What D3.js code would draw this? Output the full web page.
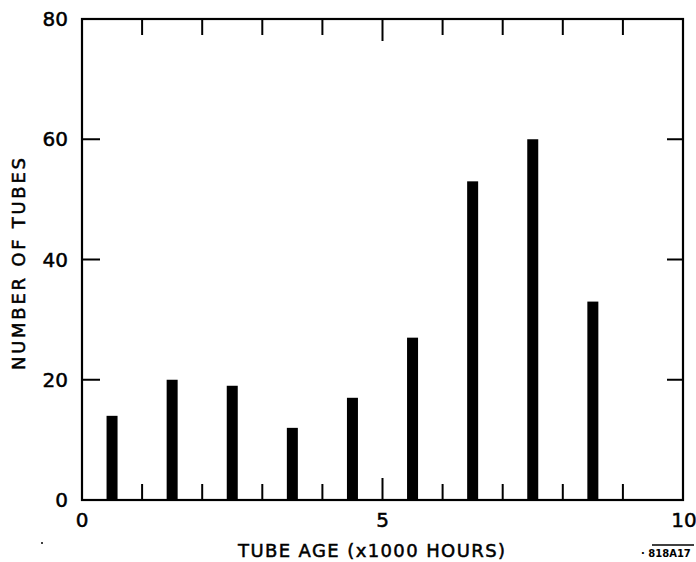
<!DOCTYPE html>
<html><head><meta charset="utf-8">
<script src="https://cdn.jsdelivr.net/npm/d3@7"></script>
<style>html,body{margin:0;padding:0;background:#fff;}svg{display:block;}text{font-family:"DejaVu Sans",sans-serif;fill:#000;}.lbl{stroke:#000;stroke-width:0.5;}</style>
</head><body>
<svg id="c" width="696" height="562"></svg>
<script>
const categories = [0.5, 1.5, 2.5, 3.5, 4.5, 5.5, 6.5, 7.5, 8.5];
const values = [14, 20, 19, 12, 17, 27, 53, 60, 33];
const xTickLabels = [0, 5, 10];
const yTickLabels = [0, 20, 40, 60, 80];
const xMinorTicks = [1, 2, 3, 4, 5, 6, 7, 8, 9];
const yInnerTicks = [20, 40, 60];

const svg = d3.select("#c");
const L = 82, R = 683, T = 19, B = 500;
const x = d3.scaleLinear().domain([0, 10]).range([L, R]);
const y = d3.scaleLinear().domain([0, 80]).range([B, T]);

// bars
svg.append("g").selectAll("rect").data(categories).join("rect")
  .attr("x", d => x(d) - 5.5)
  .attr("width", 11)
  .attr("y", (d, i) => y(values[i]))
  .attr("height", (d, i) => y(0) - y(values[i]))
  .attr("fill", "#000");

// frame
svg.append("rect").attr("x", L).attr("y", T).attr("width", R - L).attr("height", B - T)
  .attr("fill", "none").attr("stroke", "#000").attr("stroke-width", 2.2);

// ticks (inward)
const tl = d => d === 5 ? 22 : 16;
const g = svg.append("g").attr("stroke", "#000").attr("stroke-width", 2);
g.selectAll(".xb").data(xMinorTicks).join("line")
  .attr("x1", d => x(d)).attr("x2", d => x(d))
  .attr("y1", B).attr("y2", d => B - tl(d));
g.selectAll(".xt").data(xMinorTicks).join("line")
  .attr("x1", d => x(d)).attr("x2", d => x(d))
  .attr("y1", T).attr("y2", d => T + tl(d));
g.selectAll(".yl").data(yInnerTicks).join("line")
  .attr("x1", L).attr("x2", L + 18)
  .attr("y1", d => y(d)).attr("y2", d => y(d));
g.selectAll(".yr").data(yInnerTicks).join("line")
  .attr("x1", R).attr("x2", R - 16)
  .attr("y1", d => y(d)).attr("y2", d => y(d));

// y tick labels
svg.append("g").selectAll("text").data(yTickLabels).join("text")
  .attr("class", "lbl")
  .attr("x", 68).attr("y", d => y(d))
  .attr("dy", "0.36em")
  .attr("text-anchor", "end")
  .attr("font-size", 20)
  .text(d => d);

// x tick labels
svg.append("g").selectAll("text").data(xTickLabels).join("text")
  .attr("class", "lbl")
  .attr("x", d => x(d) + (d === 10 ? 1 : 0)).attr("y", 527)
  .attr("text-anchor", "middle")
  .attr("font-size", 20)
  .text(d => d);

// axis titles
svg.append("text").attr("class", "lbl").attr("x", 238).attr("y", 557)
  .attr("font-size", 18).attr("textLength", 267).attr("lengthAdjust", "spacing")
  .text("TUBE AGE (x1000 HOURS)");
svg.append("text").attr("class", "lbl").attr("transform", "translate(25,370) rotate(-90)")
  .attr("font-size", 18).attr("textLength", 212).attr("lengthAdjust", "spacing")
  .text("NUMBER OF TUBES");

// figure code
svg.append("text").attr("x", 641).attr("y", 557).attr("font-size", 10).attr("font-weight", "bold")
  .text("· 818A17");
svg.append("line").attr("x1", 652).attr("x2", 694).attr("y1", 545).attr("y2", 545)
  .attr("stroke", "#000").attr("stroke-width", 1.5);
svg.append("circle").attr("cx", 42).attr("cy", 543).attr("r", 1).attr("fill", "#000");
</script>
</body></html>
